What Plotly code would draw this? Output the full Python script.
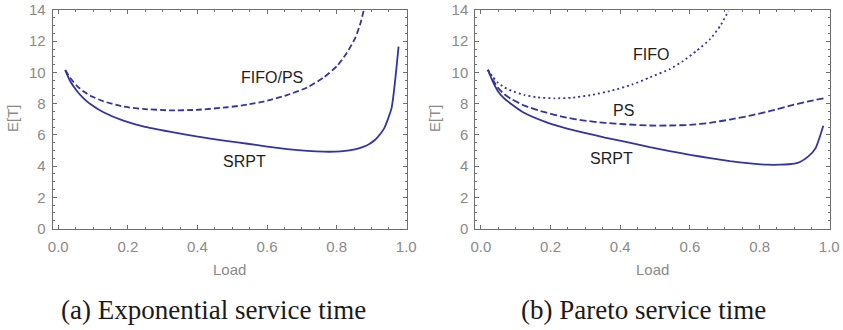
import plotly.graph_objects as go

# ---------------- data ----------------
# (a) Exponential service time
exp_fifo_ps_x = [0.02, 0.034, 0.053, 0.072, 0.092, 0.13, 0.187, 0.244, 0.32, 0.397, 0.487,
                 0.544, 0.601, 0.658, 0.716, 0.763, 0.802, 0.83, 0.854, 0.869, 0.878]
exp_fifo_ps_y = [10.15, 9.66, 9.15, 8.79, 8.51, 8.15, 7.81, 7.66, 7.57, 7.6, 7.77,
                 7.94, 8.19, 8.55, 9.04, 9.68, 10.43, 11.28, 12.23, 13.19, 14.0]

exp_srpt_x = [0.02, 0.034, 0.053, 0.072, 0.092, 0.13, 0.187, 0.244, 0.32, 0.397, 0.487, 0.544,
              0.601, 0.658, 0.716, 0.763, 0.811, 0.849, 0.878, 0.894, 0.907, 0.918, 0.937, 0.958, 0.978]
exp_srpt_y = [10.15, 9.45, 8.83, 8.36, 7.98, 7.45, 6.91, 6.55, 6.21, 5.90, 5.60, 5.43,
              5.25, 5.09, 4.97, 4.92, 4.94, 5.06, 5.25, 5.42, 5.62, 5.86, 6.43, 7.73, 11.65]

# (b) Pareto service time
par_fifo_x = [0.02, 0.034, 0.048, 0.066, 0.087, 0.125, 0.163, 0.212, 0.26, 0.317, 0.375, 0.433,
              0.485, 0.542, 0.581, 0.619, 0.658, 0.687, 0.711]
par_fifo_y = [10.17, 9.72, 9.36, 9.06, 8.83, 8.55, 8.40, 8.34, 8.38, 8.55, 8.83, 9.21,
              9.68, 10.21, 10.74, 11.38, 12.13, 12.98, 13.94]

par_ps_x = [0.02, 0.034, 0.048, 0.066, 0.087, 0.125, 0.183, 0.24, 0.298, 0.356, 0.413, 0.485,
            0.542, 0.6, 0.658, 0.715, 0.773, 0.831, 0.888, 0.937, 0.985]
par_ps_y = [10.17, 9.55, 9.04, 8.63, 8.30, 7.87, 7.45, 7.13, 6.91, 6.77, 6.68, 6.60,
            6.60, 6.64, 6.77, 6.98, 7.23, 7.53, 7.87, 8.13, 8.35]

par_srpt_x = [0.02, 0.034, 0.048, 0.066, 0.087, 0.125, 0.183, 0.24, 0.298, 0.356, 0.413, 0.485,
              0.542, 0.6, 0.658, 0.715, 0.773, 0.821, 0.86, 0.9, 0.916, 0.94, 0.961, 0.983]
par_srpt_y = [10.17, 9.42, 8.83, 8.35, 7.98, 7.40, 6.85, 6.45, 6.13, 5.83, 5.57, 5.21,
              4.96, 4.72, 4.51, 4.32, 4.17, 4.09, 4.09, 4.16, 4.26, 4.62, 5.15, 6.58]

x_ticks = [0.0, 0.2, 0.4, 0.6, 0.8, 1.0]
y_ticks = [0, 2, 4, 6, 8, 10, 12, 14]

# ---------------- style ----------------
LINE = "#3434a0"
FRAME = "#6e6e6e"
TICKTXT = "#8a8a8a"
W, H = 843, 330

fig = go.Figure()

def add(x, y, dash, xa, ya):
    fig.add_trace(go.Scatter(x=x, y=y, mode="lines", xaxis=xa, yaxis=ya,
                             line=dict(color=LINE, width=1.8, dash=dash, shape="spline", smoothing=0.5),
                             showlegend=False, hoverinfo="skip"))

add(exp_fifo_ps_x, exp_fifo_ps_y, "6px,3px", "x", "y")
add(exp_srpt_x, exp_srpt_y, "solid", "x", "y")
add(par_fifo_x, par_fifo_y, "2px,3px", "x2", "y2")
add(par_ps_x, par_ps_y, "7px,3px", "x2", "y2")
add(par_srpt_x, par_srpt_y, "solid", "x2", "y2")

def xaxis(domain, anchor):
    return dict(domain=domain, anchor=anchor, range=[-0.016, 1.0008], automargin=False,
                tickmode="array", tickvals=x_ticks, ticktext=[f"{v:.1f}" for v in x_ticks],
                ticks="inside", ticklen=4, tickcolor=FRAME, tickwidth=1,
                showline=True, linecolor=FRAME, linewidth=1, mirror="allticks",
                showgrid=False, zeroline=False,
                minor=dict(ticks="inside", ticklen=2, tickvals=[i * 0.05 for i in range(21)],
                           tickcolor=FRAME, showgrid=False),
                tickfont=dict(family="Liberation Sans", size=15, color=TICKTXT),
                ticklabelstandoff=4)

def yaxis(domain, anchor):
    return dict(domain=domain, anchor=anchor, range=[0, 14], automargin=False,
                tickmode="array", tickvals=y_ticks, ticktext=[str(v) for v in y_ticks],
                ticks="inside", ticklen=4, tickcolor=FRAME, tickwidth=1,
                showline=True, linecolor=FRAME, linewidth=1, mirror="allticks",
                showgrid=False, zeroline=False,
                minor=dict(ticks="inside", ticklen=2, tickvals=[i * 0.5 for i in range(29)],
                           tickcolor=FRAME, showgrid=False),
                tickfont=dict(family="Liberation Sans", size=15, color=TICKTXT),
                ticklabelstandoff=3)

ydom = [(H - 228.5) / H, (H - 10) / H]
fig.update_layout(
    width=W, height=H, margin=dict(l=0, r=0, t=0, b=0, autoexpand=False),
    paper_bgcolor="white", plot_bgcolor="white",
    xaxis=xaxis([52.7 / W, 406.5 / W], "y"),
    yaxis=yaxis(ydom, "x"),
    xaxis2=xaxis([475.3 / W, 829.5 / W], "y2"),
    yaxis2=yaxis(ydom, "x2"),
)

anns = []
# curve labels
lab = dict(family="Liberation Sans", size=16, color="#1e1e1e")
for txt, x, y, xr, yr in [("FIFO/PS", 0.615, 9.68, "x", "y"), ("SRPT", 0.534, 4.32, "x", "y"),
                          ("FIFO", 0.488, 11.13, "x2", "y2"), ("PS", 0.41, 7.55, "x2", "y2"),
                          ("SRPT", 0.375, 4.47, "x2", "y2")]:
    anns.append(dict(text=txt, x=x, y=y, xref=xr, yref=yr, showarrow=False,
                     xanchor="center", yanchor="middle", font=lab))
# axis titles
tfont = dict(family="Liberation Sans", size=15, color=TICKTXT)
for cx in [(52.7 + 406.5) / 2, (475.3 + 829.5) / 2]:
    anns.append(dict(text="Load", x=cx / W, y=(H - 269) / H, xref="paper", yref="paper",
                     showarrow=False, xanchor="center", yanchor="middle", font=tfont))
for cx in [13, 435]:
    anns.append(dict(text="E[T]", x=cx / W, y=(H - 118) / H, xref="paper", yref="paper",
                     showarrow=False, xanchor="center", yanchor="middle", textangle=-90, font=tfont))
# captions
cfont = dict(family="Liberation Serif", size=27, color="#1a1a1a")
for txt, cx in [("(a) Exponential service time", 213.5), ("(b) Pareto service time", 643)]:
    anns.append(dict(text=txt, x=cx / W, y=(H - 310) / H, xref="paper", yref="paper",
                     showarrow=False, xanchor="center", yanchor="middle", font=cfont))
fig.update_layout(annotations=anns)

fig.write_html("out.html")
